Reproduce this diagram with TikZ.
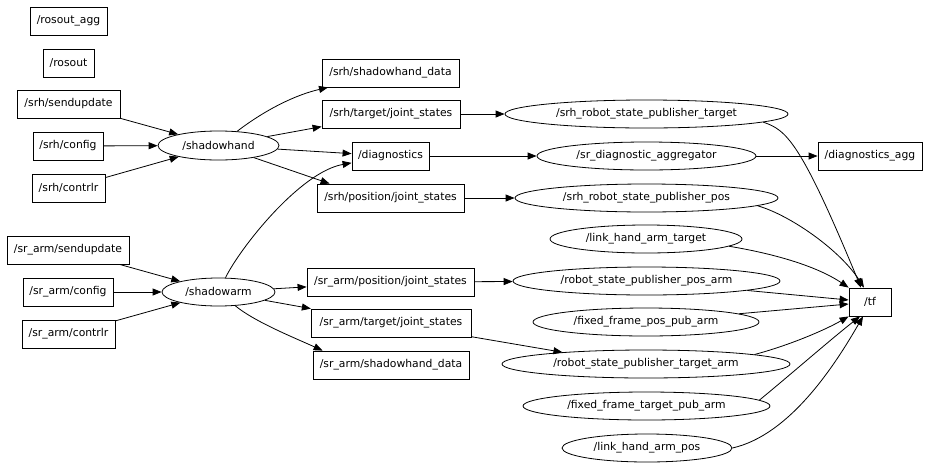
\documentclass[tikz,border=0pt]{standalone}
\usepackage{fontspec}
\setmainfont{DejaVu Sans}
\usetikzlibrary{shapes.geometric,arrows.meta}
\begin{document}
\begin{tikzpicture}[x=1pt,y=-1pt,
  lbl/.style={font=\fontsize{10.8}{13}\selectfont},
  box/.style={lbl,draw,rectangle,minimum height=28pt,inner sep=0pt,line width=0.8pt},
  ell/.style={lbl,draw,ellipse,minimum height=28pt,inner sep=0pt,line width=0.8pt},
  arr/.style={-{Triangle[length=9pt,width=7pt]},line width=0.8pt}]
\useasboundingbox (0,0) rectangle (929,472);
% left column
\node[box,minimum width=77pt] (rosoutagg) at (68.5,21) {/rosout\_agg};
\node[box,minimum width=51pt] (rosout) at (68.5,63) {/rosout};
\node[box,minimum width=103pt] (srhsend) at (68.5,104) {/srh/sendupdate};
\node[box,minimum width=70pt] (srhconf) at (68,146) {/srh/config};
\node[box,minimum width=73pt] (srhctrl) at (68.5,188) {/srh/contrlr};
\node[box,minimum width=122pt] (sasend) at (68,250) {/sr\_arm/sendupdate};
\node[box,minimum width=90pt] (saconf) at (68,292) {/sr\_arm/config};
\node[box,minimum width=93pt] (sactrl) at (68.5,334) {/sr\_arm/contrlr};
% hand / arm
\node[ell,minimum width=121pt,minimum height=29pt] (sh) at (218.5,145.5) {/shadowhand};
\node[ell,minimum width=113pt] (sa) at (218.5,292) {/shadowarm};
% topics middle
\node[box,minimum width=137pt] (shd) at (390.5,73) {/srh/shadowhand\_data};
\node[box,minimum width=138pt] (stjs) at (391,114) {/srh/target/joint\_states};
\node[box,minimum width=77pt] (diag) at (390.5,156) {/diagnostics};
\node[box,minimum width=147pt] (spjs) at (390.5,198) {/srh/position/joint\_states};
\node[box,minimum width=167pt] (sapjs) at (390.5,282) {/sr\_arm/position/joint\_states};
\node[box,minimum width=160pt] (satjs) at (391,323) {/sr\_arm/target/joint\_states};
\node[box,minimum width=156pt] (sashd) at (391,365) {/sr\_arm/shadowhand\_data};
% ellipses right
\node[ell,minimum width=283pt] (srht) at (646.5,114) {/srh\_robot\_state\_publisher\_target};
\node[ell,minimum width=219pt] (agg) at (646.5,156) {/sr\_diagnostic\_aggregator};
\node[ell,minimum width=263pt] (srhp) at (646.5,198) {/srh\_robot\_state\_publisher\_pos};
\node[ell,minimum width=192pt] (lhat) at (646,239) {/link\_hand\_arm\_target};
\node[ell,minimum width=267pt] (rspa) at (646.5,281) {/robot\_state\_publisher\_pos\_arm};
\node[ell,minimum width=226pt] (ffp) at (646,322) {/fixed\_frame\_pos\_pub\_arm};
\node[ell,minimum width=288pt] (rsta) at (646,364) {/robot\_state\_publisher\_target\_arm};
\node[ell,minimum width=247pt] (fft) at (646.5,406) {/fixed\_frame\_target\_pub\_arm};
\node[ell,minimum width=170pt] (lhap) at (647,448) {/link\_hand\_arm\_pos};
% far right
\node[box,minimum width=104pt] (dagg) at (870,156) {/diagnostics\_agg};
\node[box,minimum width=42pt] (tf) at (870,302) {/tf};
% edges left
\draw[arr] (srhsend) -- (sh);
\draw[arr] (srhconf) -- (sh);
\draw[arr] (srhctrl) -- (sh);
\draw[arr] (sasend) -- (sa);
\draw[arr] (saconf) -- (sa);
\draw[arr] (sactrl) -- (sa);
% shadowhand out
\draw[arr] (sh) .. controls (265,110) and (295,95) .. (shd);
\draw[arr] (sh) -- (stjs);
\draw[arr] (sh) -- (diag);
\draw[arr] (sh) -- ([xshift=13pt]spjs.north west);
% shadowarm out
\draw[arr] (sa) .. controls (240,248) and (300,172) .. (diag);
\draw[arr] (sa) -- (sapjs);
\draw[arr] (sa) -- (satjs);
\draw[arr] (sa) .. controls (255,322) and (295,338) .. ([xshift=10pt]sashd.north west);
% middle to right
\draw[arr] (stjs) -- (srht);
\draw[arr] (diag) -- (agg);
\draw[arr] (agg) -- (dagg);
\draw[arr] (spjs) -- (srhp);
\draw[arr] (sapjs) -- (rspa);
\draw[arr] (satjs) -- (rsta.172);
% into tf
\draw[arr] (srht.-4) .. controls (786,130) and (800,140) .. ([xshift=-9pt]tf.north);
\draw[arr] (srhp.-4) .. controls (790,215) and (840,250) .. ([xshift=-6pt]tf.north);
\draw[arr] (lhat.-5) .. controls (770,253) and (815,265) .. (tf.north west);
\draw[arr] (rspa) -- ([yshift=2pt]tf.west);
\draw[arr] (ffp) -- ([yshift=-2pt]tf.west);
\draw[arr] (rsta.5.7) .. controls (790,345) and (825,330) .. (tf.south west);
\draw[arr] (fft.3.5) .. controls (790,375) and (830,340) .. ([xshift=-10pt]tf.south);
\draw[arr] (lhap.east) .. controls (790,435) and (835,365) .. ([xshift=-7pt]tf.south);
\end{tikzpicture}
\end{document}
